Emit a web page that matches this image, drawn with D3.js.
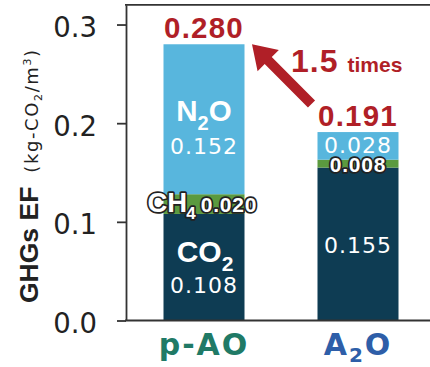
<!DOCTYPE html>
<html><head><meta charset="utf-8">
<script src="https://cdn.jsdelivr.net/npm/d3@7/dist/d3.min.js"></script>
<style>
html,body{margin:0;padding:0;background:#fff;}
svg{display:block;}
</style></head>
<body>
<svg id="chart" width="430" height="367"></svg>
<script>
// ---- data ----
const categories = ["p-AO", "A2O"];
const co2Values = [0.108, 0.155];
const ch4Values = [0.020, 0.008];
const n2oValues = [0.152, 0.028];
const totalValues = [0.280, 0.191];
const yTicks = [0.0, 0.1, 0.2, 0.3];
const ratioLabel = "1.5";
const ratioUnit = "times";

const colors = {co2: "#0e3c53", ch4: "#5b9a3f", n2o: "#58b6dd"};
const red = "#b01f27";
const bold = "'Liberation Sans', Arial, sans-serif";
const reg = "'DejaVu Sans', sans-serif";

const svg = d3.select("#chart");
const x = d3.scaleBand().domain(categories).range([126, 436]).paddingInner(0.474).paddingOuter(0.2435);
const y = d3.scaleLinear().domain([0, 0.32]).range([320.5, 4.8]);

// stacked data
const rows = categories.map((c, i) => ({cat: c, co2: co2Values[i], ch4: ch4Values[i], n2o: n2oValues[i]}));
const stack = d3.stack().keys(["co2", "ch4", "n2o"])(rows);

svg.append("g").selectAll("g").data(stack).join("g")
  .attr("fill", d => colors[d.key])
  .selectAll("rect").data(d => d).join("rect")
  .attr("x", d => x(d.data.cat))
  .attr("width", x.bandwidth())
  .attr("y", d => y(d[1]))
  .attr("height", d => y(d[0]) - y(d[1]));

// axes
const yAxis = d3.axisLeft(y).tickValues(yTicks).tickFormat(d3.format(".1f")).tickSize(9).tickSizeOuter(0).tickPadding(20);
const gy = svg.append("g").attr("transform", "translate(126,0)").call(yAxis);
gy.selectAll("path,line").attr("stroke", "#333").attr("stroke-width", 1.8);
gy.selectAll("text").attr("font-family", reg).attr("font-size", 27.5).attr("fill", "#222").attr("dy", "0.44em");

svg.append("line").attr("x1", 125).attr("x2", 430).attr("y1", y(0)).attr("y2", y(0)).attr("stroke", "#333").attr("stroke-width", 1.8);
svg.append("line").attr("x1", 125).attr("x2", 430).attr("y1", y(0.32)).attr("y2", y(0.32)).attr("stroke", "#333").attr("stroke-width", 1.8);

// y title
const yt = svg.append("text").attr("transform", "rotate(-90)").attr("x", -303).attr("y", 38).attr("fill", "#222");
yt.append("tspan").text("GHGs EF").attr("font-family", bold).attr("font-weight", "bold").attr("font-size", 26.5);
const yu = yt.append("tspan").attr("font-family", reg).attr("font-size", 18).attr("dx", 14).attr("letter-spacing", 1.6);
yu.append("tspan").text("(kg-CO");
yu.append("tspan").text("2").attr("font-size", 11).attr("dy", 4);
yu.append("tspan").text("/m").attr("dy", -4);
yu.append("tspan").text("3").attr("font-size", 11).attr("dy", -7);
yu.append("tspan").text(")").attr("dy", 7);

// x labels
const xColors = ["#207a66", "#2e5ea8"];
const xl = svg.append("g").selectAll("text").data(categories).join("text")
  .attr("x", d => x(d) + x.bandwidth() / 2).attr("y", 355)
  .attr("text-anchor", "middle").attr("font-family", "'DejaVu Sans', sans-serif").attr("font-weight", "bold")
  .attr("font-size", 30).attr("letter-spacing", 2).attr("fill", (d, i) => xColors[i]);
xl.each(function(d) {
  const t = d3.select(this);
  const m = d.match(/^(.*?)(\d)(.*)$/);
  if (m) {
    t.append("tspan").text(m[1]);
    t.append("tspan").text(m[2]).attr("font-size", 20).attr("dy", 7);
    t.append("tspan").text(m[3]).attr("dy", -7);
  } else t.text(d);
});

// totals
svg.append("g").selectAll("text").data(totalValues).join("text")
  .attr("x", (d, i) => x(categories[i]) + x.bandwidth() / 2)
  .attr("y", d => y(d) - 6.5)
  .attr("text-anchor", "middle").attr("font-family", bold).attr("font-weight", "bold")
  .attr("font-size", 29.5).attr("letter-spacing", 1.2).attr("fill", red)
  .text(d => d3.format(".3f")(d));

const cx = i => x(categories[i]) + x.bandwidth() / 2;
const fmt = d3.format(".3f");

// value labels inside bars (pixel offsets from segment tops)
function valueLabel(xp, yp, txt, size) {
  svg.append("text").attr("x", xp).attr("y", yp).attr("text-anchor", "middle")
    .attr("font-family", reg).attr("font-size", size).attr("letter-spacing", 1).attr("fill", "#fff").text(txt);
}
function chemLabel(xp, yp, main1, sub, main2, size, subsize, subdy) {
  const t = svg.append("text").attr("x", xp).attr("y", yp).attr("text-anchor", "middle")
    .attr("font-family", bold).attr("font-weight", "bold").attr("font-size", size).attr("fill", "#fff");
  t.append("tspan").text(main1);
  t.append("tspan").text(sub).attr("font-size", subsize).attr("dy", subdy);
  if (main2) t.append("tspan").text(main2).attr("dy", -subdy);
  return t;
}
// p-AO
const topA = y(totalValues[0]);
chemLabel(cx(0), topA + 76.5, "N", "2", "O", 29.5, 20, 9);
valueLabel(cx(0), topA + 109.5, fmt(n2oValues[0]), 22);
const co2TopA = y(co2Values[0]);
chemLabel(cx(0) + 1, co2TopA + 47.7, "CO", "2", null, 30, 21, 9);
valueLabel(cx(0), co2TopA + 79.5, fmt(co2Values[0]), 22);
// A2O
valueLabel(cx(1), y(totalValues[1]) + 21, fmt(n2oValues[1]), 22);
valueLabel(cx(1), y(co2Values[1]) + 85.7, fmt(co2Values[1]), 22);

// outlined CH4 labels
const ch = svg.append("text").attr("x", x(categories[0]) - 16).attr("y", y(co2Values[0]) - 2.3)
  .attr("font-family", bold).attr("font-weight", "bold").attr("fill", "#fff")
  .attr("stroke", "#222").attr("stroke-width", 3.4).attr("paint-order", "stroke").attr("stroke-linejoin", "round");
ch.append("tspan").text("CH").attr("font-size", 27.5);
ch.append("tspan").text("4").attr("font-size", 17).attr("dy", 7.5).attr("dx", -1);
ch.append("tspan").text(fmt(ch4Values[0])).attr("font-size", 21).attr("dy", -7.5).attr("dx", 5).attr("letter-spacing", 0.8);

svg.append("text").attr("x", cx(1)).attr("y", y(co2Values[1]) + 4.5).attr("text-anchor", "middle")
  .attr("font-family", bold).attr("font-weight", "bold").attr("font-size", 21).attr("letter-spacing", 0.8).attr("fill", "#fff")
  .attr("stroke", "#222").attr("stroke-width", 3.4).attr("paint-order", "stroke").attr("stroke-linejoin", "round")
  .text(fmt(ch4Values[1]));

// arrow annotation
const tip = [x(categories[0]) + x.bandwidth() + 7.5, y(totalValues[0])];
const tail = [x(categories[1]) - 6, y(totalValues[1]) - 28];
const ang = Math.atan2(tip[1] - tail[1], tip[0] - tail[0]);
const ux = Math.cos(ang), uy = Math.sin(ang), px = -uy, py = ux;
const headL = 23, headW = 15, shaftW = 5;
const hb = [tip[0] - ux * headL, tip[1] - uy * headL];
const pts = [
  [tail[0] + px * shaftW, tail[1] + py * shaftW],
  [hb[0] + px * shaftW, hb[1] + py * shaftW],
  [hb[0] + px * headW, hb[1] + py * headW],
  tip,
  [hb[0] - px * headW, hb[1] - py * headW],
  [hb[0] - px * shaftW, hb[1] - py * shaftW],
  [tail[0] - px * shaftW, tail[1] - py * shaftW]
];
svg.append("path").attr("d", d3.line()(pts) + "Z").attr("fill", red);

const rt = svg.append("text").attr("x", 291).attr("y", 72).attr("font-family", bold).attr("font-weight", "bold").attr("fill", red);
rt.append("tspan").text(ratioLabel).attr("font-size", 32).attr("letter-spacing", 1);
rt.append("tspan").text(ratioUnit).attr("font-size", 21).attr("dx", 9);
</script>
</body></html>
